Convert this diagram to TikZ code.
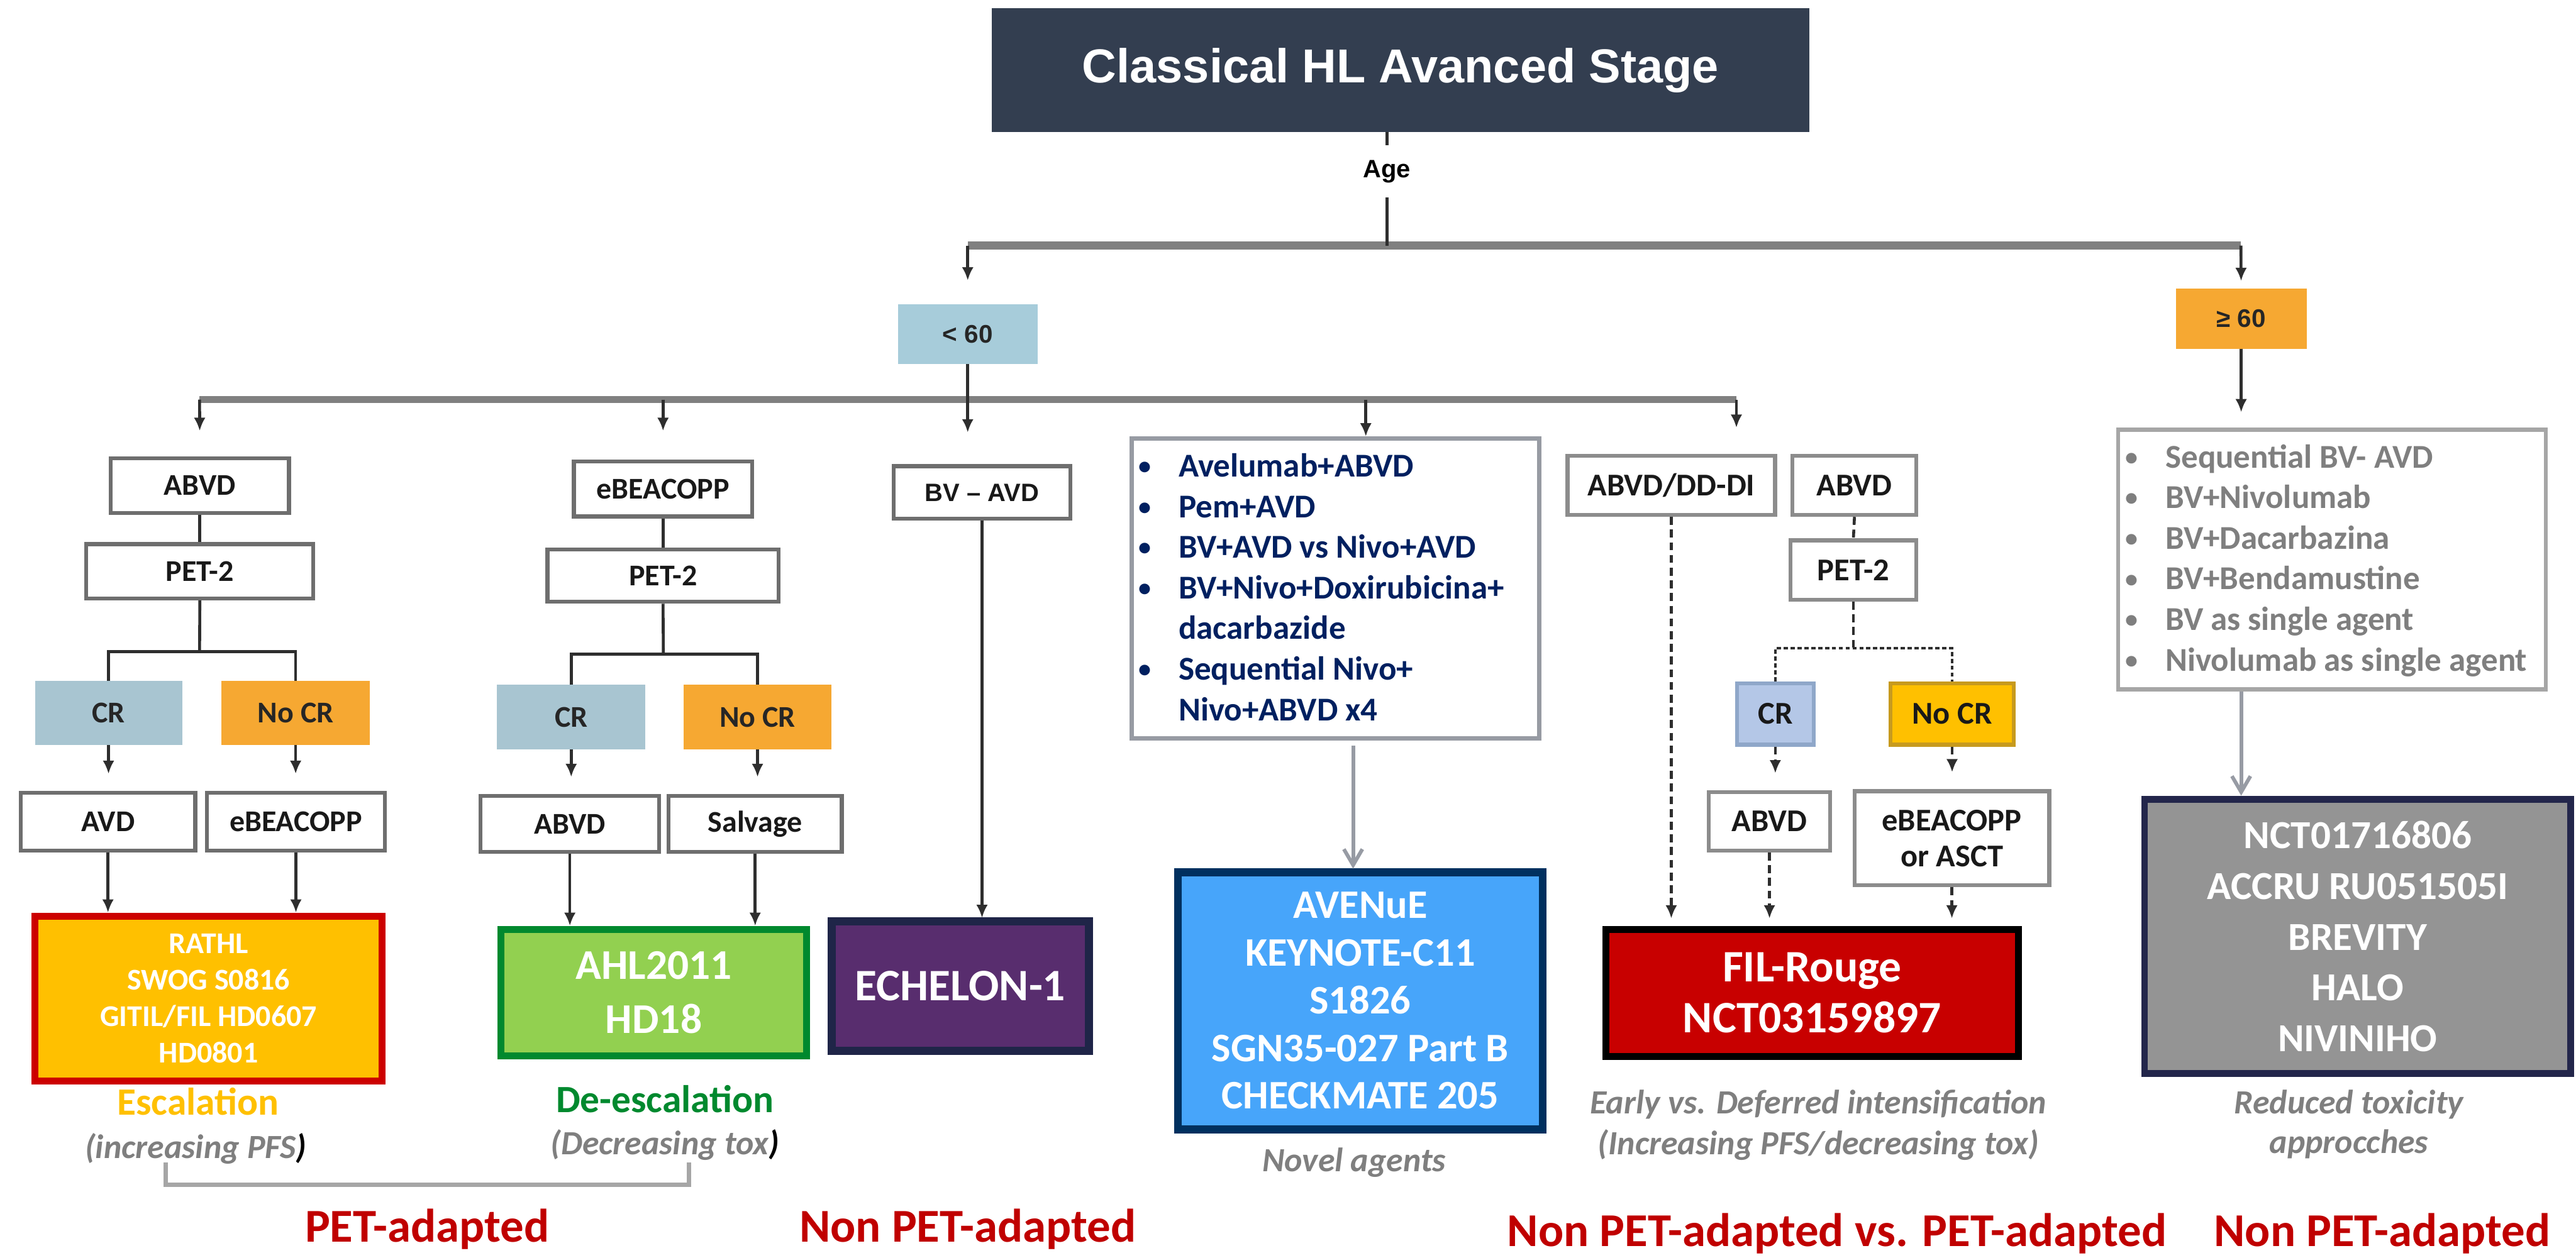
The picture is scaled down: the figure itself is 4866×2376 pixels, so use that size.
\documentclass[tikz,border=0pt]{standalone}
\usepackage{fontspec}
\setmainfont{Carlito}
\newfontfamily\arialf{Liberation Sans}
\usetikzlibrary{arrows.meta}

\newcommand\fsz[2]{\fontsize{#1}{#2}\selectfont}
% small list bullet in a fixed-width slot
\newcommand\smbul{\makebox[6.3pt]{\fsz{9.5}{10}\raisebox{0.9pt}{•}}}

\definecolor{titlebg}{HTML}{333E50}
\definecolor{linegrey}{HTML}{808080}
\definecolor{darkline}{HTML}{2E2E2E}
\definecolor{boxline}{HTML}{6E6E6E}
\definecolor{boxlineB}{HTML}{8C8C8C}
\definecolor{ltfill}{HTML}{A7CCDA}
\definecolor{gefill}{HTML}{F6A832}
\definecolor{crfill}{HTML}{A8C5D1}
\definecolor{nocrfill}{HTML}{F6A832}
\definecolor{crfillB}{HTML}{B4C7E7}
\definecolor{crlineB}{HTML}{8FA7C9}
\definecolor{nocrfillB}{HTML}{FFC000}
\definecolor{nocrlineB}{HTML}{C79A1E}
\definecolor{navytext}{HTML}{002060}
\definecolor{greytext}{HTML}{7F7F7F}
\definecolor{listlineA}{HTML}{979BA3}
\definecolor{listlineB}{HTML}{A6A6A6}
\definecolor{arrgrey}{HTML}{979BA4}
\definecolor{escyellow}{HTML}{FFC000}
\definecolor{rathlline}{HTML}{CC0000}
\definecolor{deescgreen}{HTML}{00892E}
\definecolor{ahlfill}{HTML}{92D050}
\definecolor{echfill}{HTML}{582D6E}
\definecolor{echline}{HTML}{1F2548}
\definecolor{avenfill}{HTML}{47A5FA}
\definecolor{avenline}{HTML}{00305F}
\definecolor{filfill}{HTML}{C80000}
\definecolor{nctfill}{HTML}{949494}
\definecolor{nctline}{HTML}{23264B}
\definecolor{labelred}{HTML}{C00000}
\definecolor{bracketgrey}{HTML}{A6A6A6}

% box from its outer corners (x1,y1)-(x2,y2), in pixel units
\newcommand\pbox[7]{%
  \node[#2, minimum width={(#5-#3)*0.2pt}, minimum height={(#6-#4)*0.2pt}]
    (#1) at ({(#3+#5)/2},{(#4+#6)/2}) {#7};}

\begin{document}
\begin{tikzpicture}[x=0.2pt, y=-0.2pt,
  base/.style={inner sep=0pt, outer sep=0pt, align=center},
  titlebox/.style={base, fill=titlebg, text=white, font={\arialf\bfseries\fsz{18}{21}}},
  agelabel/.style={base, fill=white, minimum height=19.6pt, inner xsep=2pt, font={\arialf\bfseries\fsz{9.5}{11}}},
  agebox/.style={base, font={\arialf\bfseries\fsz{9.6}{11}}, text=black!85},
  flowA/.style={base, draw=boxline, line width=1.5pt, outer sep=0.75pt, fill=white, text=black!90, font={\bfseries\fsz{11.4}{13.7}}},
  flowArial/.style={flowA, font={\arialf\bfseries\fsz{9.5}{11}}},
  flowB/.style={base, draw=boxlineB, line width=1.5pt, outer sep=0.75pt, fill=white, text=black!90, font={\bfseries\fsz{12}{13.6}}},
  crA/.style={base, fill=crfill, text=black!85, font={\bfseries\fsz{11.4}{13.7}}},
  nocrA/.style={base, fill=nocrfill, text=black!85, font={\bfseries\fsz{11.4}{13.7}}},
  crC/.style={flowB, fill=crfillB, draw=crlineB},
  nocrC/.style={flowB, fill=nocrfillB, draw=nocrlineB},
  listA/.style={base, draw=listlineA, line width=1.7pt, outer sep=0.85pt, fill=white},
  listB/.style={base, draw=listlineB, line width=1.6pt, outer sep=0.8pt, fill=white},
  bigbox/.style={base, line width=2.6pt, outer sep=1.3pt, text=white},
  hline/.style={draw=linegrey, line width=3pt},
  hlineB/.style={draw=linegrey, line width=2.4pt},
  drop/.style={draw=darkline, line width=1.1pt},
  arr/.style={drop, -{Latex[length=5pt,width=4.4pt]}},
  ddrop/.style={drop, dash pattern=on 3pt off 1.8pt},
  dotline/.style={drop, dash pattern=on 1.6pt off 1pt},
  darr/.style={arr, dash pattern=on 3pt off 1.8pt},
  garr/.style={draw=arrgrey, line width=1.4pt, -{Straight Barb[length=6pt,width=7pt]}},
  bracket/.style={draw=bracketgrey, line width=1.6pt},
  sublabel/.style={inner sep=0pt, anchor=base, font={\bfseries\fsz{14.6}{17}}},
  note/.style={inner sep=0pt, anchor=base, text=greytext, font={\bfseries\itshape\fsz{12.8}{15}}},
  group/.style={inner sep=0pt, anchor=base, text=labelred, font={\bfseries\fsz{17.8}{20}}},
  listtext/.style={inner sep=0pt, anchor=base west, align=left, font={\bfseries\fsz{12.6}{15.35}}}
]
\useasboundingbox (0,0) rectangle (4866,2376);

% ---------- top of the tree ----------
\pbox{title}{titlebox}{1873}{16}{3418}{250}{Classical HL Avanced Stage}
\node[agelabel] (age) at (2620,324) {Age};
\coordinate (h1L) at (1828,464);
\coordinate (h1R) at (4233,464);
\pbox{lt60}{agebox, fill=ltfill}{1696}{575}{1960}{688}{< 60}
\pbox{ge60}{agebox, fill=gefill}{4110}{545}{4357}{659}{≥ 60}

\draw[hline] (h1L) -- (h1R);
\draw[drop] (title.south -| age) -- (age.north);
\draw[drop] (age.south) -- (age.south |- h1L);
\draw[arr, shorten >=9pt] (h1L) -- (h1L |- lt60.north);
\draw[arr, shorten >=2.8pt] (h1R) -- (ge60.north);

% ---------- second level ----------
\coordinate (h2L) at (377,755);
\coordinate (h2n) at (2580,755);
\coordinate (h2R) at (3280,755);
\draw[hlineB] (h2L) -- (h2R);

% left branch: ABVD
\pbox{abvdA}{flowA}{209}{866}{546}{969}{ABVD}
\pbox{petA}{flowA}{163}{1028}{592}{1131}{PET-2}
\pbox{crA}{crA}{66}{1287}{344}{1408}{CR}
\pbox{nocrA}{nocrA}{418}{1287}{699}{1408}{No CR}
\pbox{avd}{flowA}{39}{1498}{369}{1607}{AVD}
\pbox{ebeA}{flowA}{391}{1498}{727}{1607}{eBEACOPP}
\coordinate (brA) at (377,1231);

% branch: eBEACOPP
\pbox{ebeB}{flowA}{1084}{872}{1421}{976}{eBEACOPP}
\pbox{petB}{flowA}{1034}{1038}{1471}{1137}{PET-2}
\pbox{crB}{crA}{939}{1294}{1219}{1416}{CR}
\pbox{nocrB}{nocrA}{1291}{1294}{1571}{1416}{No CR}
\pbox{abvdB}{flowA}{908}{1504}{1245}{1610}{ABVD}
\pbox{salv}{flowA}{1263}{1504}{1590}{1610}{Salvage}
\coordinate (brB) at (1253,1236);

% branch: BV - AVD
\pbox{bvavd}{flowArial}{1688}{881}{2022}{980}{BV – AVD}

% branch: novel agents
\pbox{novel}{listA}{2138}{829}{2908}{1395}{}
\node[listtext, text=navytext] (noveltxt) at (2146,901) {%
  \begin{tabular}[t]{@{}l@{\hspace{9.6pt}}l@{}}
  \smbul & Avelumab+ABVD\\
  \smbul & Pem+AVD\\
  \smbul & BV+AVD vs Nivo+AVD\\
  \smbul & BV+Nivo+Doxirubicina+\\
         & dacarbazide\\
  \smbul & Sequential Nivo+\\
         & Nivo+ABVD x4
  \end{tabular}};

% branch: early vs deferred intensification
\pbox{ddi}{flowB}{2961}{861}{3353}{973}{ABVD/DD-DI}
\pbox{abvdC}{flowB}{3386}{861}{3620}{973}{ABVD}
\pbox{petC}{flowB}{3382}{1021}{3620}{1133}{PET-2}
\pbox{crC}{crC}{3281}{1291}{3426}{1407}{CR}
\pbox{nocrC}{nocrC}{3571}{1291}{3804}{1407}{No CR}
\pbox{abvdD}{flowB}{3228}{1497}{3457}{1607}{ABVD}
\pbox{ebeC}{flowB}{3503}{1495}{3871}{1673}{eBEACOPP\\or ASCT}
\coordinate (brC) at (3501,1225);

% age >= 60
\pbox{oldlist}{listB}{4001}{812}{4809}{1303}{}
\node[listtext, text=greytext] (oldtxt) at (4010,884) {%
  \begin{tabular}[t]{@{}l@{\hspace{9.6pt}}l@{}}
  \smbul & Sequential BV- AVD\\
  \smbul & BV+Nivolumab\\
  \smbul & BV+Dacarbazina\\
  \smbul & BV+Bendamustine\\
  \smbul & BV as single agent\\
  \smbul & Nivolumab as single agent
  \end{tabular}};

% ---------- trial boxes ----------
\pbox{rathl}{bigbox, fill=escyellow, draw=rathlline, font={\bfseries\fsz{11.4}{13.8}}}{66}{1731}{722}{2043}{RATHL\\SWOG S0816\\GITIL/FIL HD0607\\HD0801}
\pbox{ahl}{bigbox, fill=ahlfill, draw=deescgreen, font={\bfseries\fsz{16}{20.4}}}{946}{1756}{1524}{1995}{AHL2011\\HD18}
\pbox{ech}{bigbox, fill=echfill, draw=echline, line width=3pt, font={\bfseries\fsz{17}{20}}}{1571}{1741}{2057}{1986}{ECHELON-1}
\pbox{aven}{bigbox, fill=avenfill, draw=avenline, line width=3pt, font={\bfseries\fsz{15.3}{18}}}{2225}{1648}{2914}{2134}{AVENuE\\KEYNOTE-C11\\S1826\\SGN35-027 Part B\\CHECKMATE 205}
\pbox{fil}{bigbox, fill=filfill, draw=black, font={\bfseries\fsz{17}{19.4}}}{3033}{1756}{3813}{1996}{FIL-Rouge\\NCT03159897}
\pbox{nct}{bigbox, fill=nctfill, draw=nctline, font={\bfseries\fsz{15}{19.2}}}{4051}{1510}{4856}{2029}{NCT01716806\\ACCRU RU051505I\\BREVITY\\HALO\\NIVINIHO}

% ---------- connectors ----------
\draw[arr, shorten >=9.6pt] (h2L) -- (abvdA.north);
\draw[arr, shorten >=10.8pt] (h2L -| ebeB) -- (ebeB.north);
\draw[arr, shorten >=12pt] (lt60.south) -- (lt60.south |- bvavd.north);
\draw[arr] (h2n) -- (h2n |- novel.north);
\draw[arr, shorten >=9.8pt] (h2R) -- (h2R |- ddi.north);
\draw[arr, shorten >=5.8pt] (ge60.south) -- (ge60.south |- oldlist.north);

% ABVD branch
\draw[drop] (abvdA.south) -- (petA.north);
\draw[drop] (petA.south) -- (brA);
\draw[drop] (crA.north) -- (crA.north |- brA) -- (nocrA.north |- brA) -- (nocrA.north);
\draw[arr, shorten >=6.4pt] (crA.south) -- (crA.south |- avd.north);
\draw[arr, shorten >=6.4pt] (nocrA.south) -- (nocrA.south |- ebeA.north);
\draw[arr] (avd.south) -- (avd.south |- rathl.north);
\draw[arr] (ebeA.south) -- (ebeA.south |- rathl.north);

% eBEACOPP branch
\draw[drop] (ebeB.south) -- (petB.north);
\draw[drop] (petB.south) -- (brB);
\draw[drop] (crB.north) -- (crB.north |- brB) -- (nocrB.north |- brB) -- (nocrB.north);
\draw[arr, shorten >=6.4pt] (crB.south) -- (crB.south |- abvdB.north);
\draw[arr, shorten >=6.4pt] (nocrB.south) -- (nocrB.south |- salv.north);
\draw[arr] (abvdB.south) -- (abvdB.south |- ahl.north);
\draw[arr] (salv.south) -- (salv.south |- ahl.north);

% BV - AVD
\draw[arr] (bvavd.south) -- (bvavd.south |- ech.north);

% novel agents
\coordinate (gA) at (2556,1409);
\draw[garr] (gA) -- (gA |- aven.north);

% early vs deferred intensification
\draw[ddrop] (abvdC.south) -- (petC.north);
\draw[ddrop] (petC.south) -- (brC);
\draw[dotline] (crC.north) -- (crC.north |- brC) -- (nocrC.north |- brC) -- (nocrC.north);
\draw[darr, shorten >=6.4pt] (crC.south) -- (crC.south |- abvdD.north);
\draw[darr, shorten >=6.4pt] (nocrC.south) -- (nocrC.south |- ebeC.north);
\draw[darr, shorten >=2.8pt] (ddi.south) -- (ddi.south |- fil.north);
\draw[darr, shorten >=2.8pt] (abvdD.south) -- (abvdD.south |- fil.north);
\draw[darr, shorten >=2.8pt] (ebeC.south) -- (ebeC.south |- fil.north);

% >= 60
\draw[garr] (oldlist.south -| ge60) -- (nct.north -| ge60);

% ---------- labels under the boxes ----------
\node[sublabel, text=escyellow] (esc) at (374,2107) {Escalation};
\node[note] (incpfs) at (370,2189) {(increasing PFS{\color{black})}};
\node[sublabel, text=deescgreen] (deesc) at (1256,2102) {De-escalation};
\node[note] (dectox) at (1256,2182) {(Decreasing tox{\color{black})}};
\coordinate (brl) at (313,2197);
\coordinate (brr) at (1301,2197);
\draw[bracket] (brl) -- ++(0,42) -| (brr);

\node[note] (novlab) at (2558,2214) {Novel agents};
\node[note] (early) at (3435,2105) {Early vs. Deferred intensification};
\node[note] (earlyb) at (3435,2182) {(Increasing PFS/decreasing tox)};
\node[note] (reduced) at (4437,2105) {Reduced toxicity};
\node[note] (reducedb) at (4437,2179) {approcches};

\node[group] (petad) at (807,2347) {PET-adapted};
\node[group] (nonpetA) at (1828,2347) {Non PET-adapted};
\node[group] (nonvs) at (3470,2355) {Non PET-adapted vs. PET-adapted};
\node[group] (nonpetB) at (4500,2355) {Non PET-adapted};
\end{tikzpicture}
\end{document}
